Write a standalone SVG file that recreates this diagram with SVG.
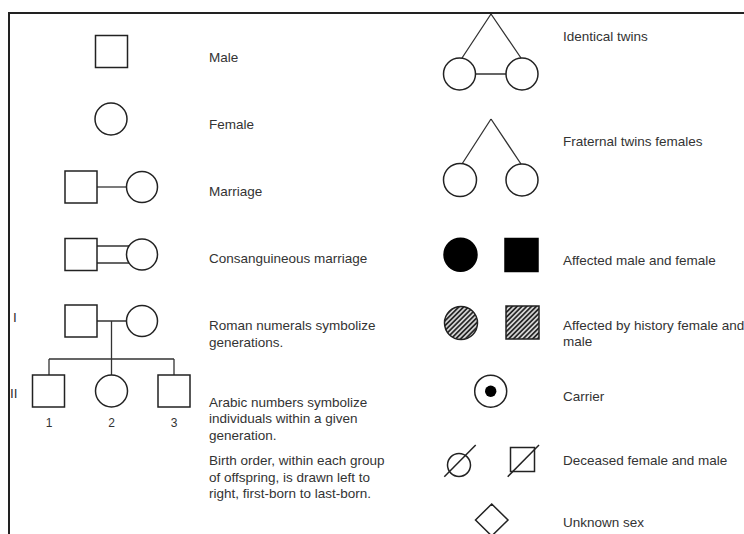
<svg xmlns="http://www.w3.org/2000/svg" width="744" height="534" viewBox="0 0 744 534">
<defs>
<pattern id="hatch" patternUnits="userSpaceOnUse" width="3.4" height="3.4" patternTransform="rotate(45)">
<rect width="3.4" height="3.4" fill="#d8d8d8"/>
<line x1="0.9" y1="0" x2="0.9" y2="3.4" stroke="#222" stroke-width="1.7"/>
</pattern>
</defs>
<style>
.s{fill:#fff;stroke:#222;stroke-width:1.5}
.f{fill:#000;stroke:#000;stroke-width:1.5}
.h{fill:url(#hatch);stroke:#222;stroke-width:1.5}
.c{fill:none;stroke:#333;stroke-width:1.3}
text{font-family:"Liberation Sans",Arial,sans-serif;font-size:13.5px;fill:#333}
.n{font-size:12px;text-anchor:middle}
</style>
<rect width="744" height="534" fill="#fff"/>
<path d="M9,534V13H744" fill="none" stroke="#222" stroke-width="2"/>

<g id="connectors" class="c">
<path d="M97,187H126.5"/>
<path d="M97,246H129M97,263H129"/>
<path d="M97,321H126.5M111.5,321V359M49,359H174M49,359V375M174,359V375M111.5,359V375"/>
<path d="M491,14L462,58M491,14L521,58M475.5,74H506"/>
<path d="M491,119L462,164M491,119L521,164"/>
</g>

<g id="male"><rect class="s" x="95.5" y="35.5" width="32" height="32"/><text x="209" y="62">Male</text></g>
<g id="female"><circle class="s" cx="111" cy="119" r="16"/><text x="209" y="129">Female</text></g>
<g id="marriage"><rect class="s" x="65" y="171" width="32" height="32"/><circle class="s" cx="142" cy="187" r="15.5"/><text x="209" y="196">Marriage</text></g>
<g id="consanguineous"><rect class="s" x="65" y="238.5" width="32" height="32"/><circle class="s" cx="142" cy="254.5" r="15.5"/><text x="209" y="263">Consanguineous marriage</text></g>
<g id="gen1"><text x="13" y="322">I</text><rect class="s" x="65" y="305" width="32" height="32"/><circle class="s" cx="142" cy="321" r="15.5"/>
<text x="209" y="330">Roman numerals symbolize</text><text x="209" y="347">generations.</text></g>
<g id="gen2"><text x="10" y="398">II</text>
<rect class="s" x="32.5" y="375" width="32" height="32"/><circle class="s" cx="111.5" cy="391" r="16"/><rect class="s" x="158" y="375" width="32" height="32"/>
<text class="n" x="49" y="427">1</text><text class="n" x="111.5" y="427">2</text><text class="n" x="174" y="427">3</text>
<text x="209" y="407">Arabic numbers symbolize</text><text x="209" y="423">individuals within a given</text><text x="209" y="439.5">generation.</text></g>
<g id="birth-order"><text x="209" y="465">Birth order, within each group</text><text x="209" y="481.5">of offspring, is drawn left to</text><text x="209" y="497.5">right, first-born to last-born.</text></g>

<g id="identical-twins"><circle class="s" cx="459.5" cy="74" r="16"/><circle class="s" cx="522" cy="74" r="16"/><text x="563" y="40.5">Identical twins</text></g>
<g id="fraternal-twins"><circle class="s" cx="460" cy="180" r="16.5"/><circle class="s" cx="522" cy="180" r="16"/><text x="563" y="146">Fraternal twins females</text></g>
<g id="affected"><circle class="f" cx="460.5" cy="254.7" r="16.5"/><rect class="f" x="505" y="238.5" width="33" height="33"/><text x="563" y="264.5">Affected male and female</text></g>
<g id="history"><circle class="h" cx="461" cy="323" r="16.5"/><rect class="h" x="506" y="306" width="33" height="33"/><text x="563" y="330">Affected by history female and</text><text x="563" y="346">male</text></g>
<g id="carrier"><circle class="s" cx="490.7" cy="391.2" r="16"/><circle cx="490.7" cy="391.2" r="5.7" fill="#000"/><text x="563" y="401">Carrier</text></g>
<g id="deceased"><circle class="s" cx="459" cy="465" r="11.5"/><path class="s" d="M444.3,476.7L475.7,445"/><rect class="s" x="510.5" y="447.5" width="24" height="24"/><path class="s" d="M507.7,476.7L539,445"/><text x="563" y="465">Deceased female and male</text></g>
<g id="unknown"><polygon class="s" points="491.7,504 508,520 491.7,536 475.5,520"/><text x="563" y="526.5">Unknown sex</text></g>
</svg>
